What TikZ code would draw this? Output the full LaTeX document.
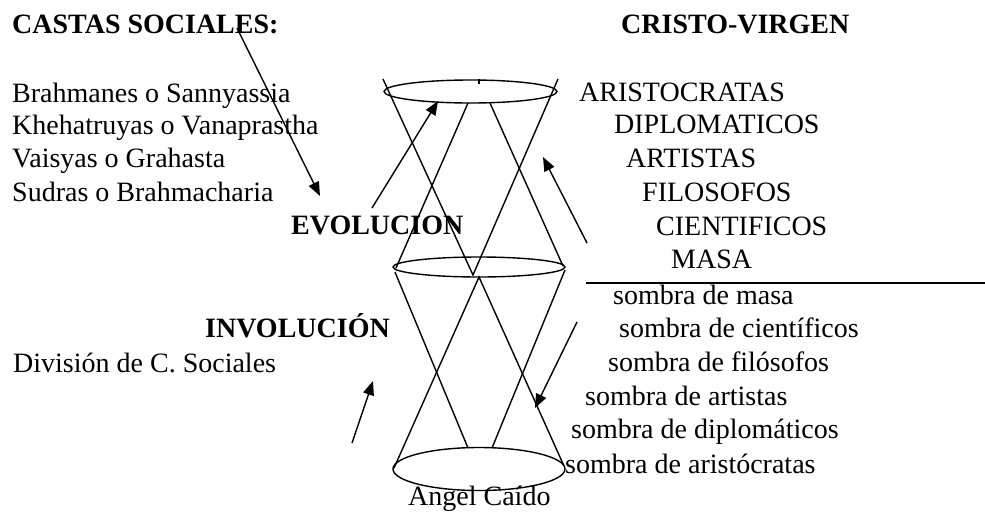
\documentclass[tikz,border=0pt]{standalone}
\usepackage{fontspec}
\setmainfont{Liberation Serif}
\usetikzlibrary{arrows.meta}
\tikzset{
  txt/.style={anchor=base west, inner sep=0pt, font=\fontsize{28}{32}\selectfont},
  btxt/.style={txt, font=\fontsize{28}{32}\selectfont\bfseries},
  cone/.style={line width=1.4pt},
  flecha/.style={line width=1.4pt, -{Triangle[length=14pt,width=11pt]}}
}
\begin{document}
\begin{tikzpicture}[x=1pt,y=-1pt]
  \useasboundingbox (0,0) rectangle (985,512);

  % Drawing titles
  \node[btxt] (castas) at (12,33) {CASTAS SOCIALES:};
  \node[btxt] (cristo) at (621,33) {CRISTO-VIRGEN};

  % Drawing castes (left)
  \node[txt] (brah) at (12,102) {Brahmanes o Sannyassia};
  \node[txt] (kheh) at (12,134) {Khehatruyas o Vanaprastha};
  \node[txt] (vais) at (12,167) {Vaisyas o Grahasta};
  \node[txt] (sudr) at (12,201) {Sudras o Brahmacharia};
  \node[btxt] (evol) at (291,234) {EVOLUCION};
  \node[btxt] (invol) at (205,337) {INVOLUCIÓN};
  \node[txt] (divis) at (13,372) {División de C. Sociales};
  \node[txt] (angel) at (408,505) {Angel Caído};

  % Drawing classes (right)
  \node[txt] (arist) at (579,101) {ARISTOCRATAS};
  \node[txt] (diplo) at (614,133) {DIPLOMATICOS};
  \node[txt] (artis) at (626,167) {ARTISTAS};
  \node[txt] (filos) at (642,201) {FILOSOFOS};
  \node[txt] (cient) at (656,235) {CIENTIFICOS};
  \node[txt] (masa) at (671,268) {MASA};

  % Drawing separating line
  \coordinate (sepA) at (586,283);
  \coordinate (sepB) at (985,283);
  \draw[cone] (sepA) -- (sepB);

  % Drawing shadows (right)
  \node[txt] (smasa) at (613,304) {sombra de masa};
  \node[txt] (scien) at (619,337) {sombra de científicos};
  \node[txt] (sfilo) at (608,371) {sombra de filósofos};
  \node[txt] (sarti) at (585,405) {sombra de artistas};
  \node[txt] (sdipl) at (571,438) {sombra de diplomáticos};
  \node[txt] (saris) at (565,473) {sombra de aristócratas};

  % Drawing ellipses
  \draw[cone] (470.5,91.5) ellipse (86.5 and 11.5);
  \draw[cone] (479,267) ellipse (86 and 10);
  \draw[cone] (479,469) ellipse (86 and 21.5);
  \draw[cone] (479,79) -- (479,84);

  % Drawing upper cone
  \coordinate (tl) at (383,79);
  \coordinate (tr) at (558,79);
  \coordinate (tbl) at (468,103);
  \coordinate (tbr) at (490,103);
  \coordinate (mv) at (473,275);
  \coordinate (ml) at (396,268);
  \coordinate (mr) at (563,266);
  \draw[cone] (tl) -- (mv) -- (tr);
  \draw[cone] (tbl) -- (ml);
  \draw[cone] (tbr) -- (mr);

  % Drawing lower cone
  \coordinate (mapex) at (479,277);
  \coordinate (bl) at (394,468);
  \coordinate (br) at (564,466);
  \coordinate (btl) at (468,448);
  \coordinate (btr) at (492,448);
  \draw[cone] (bl) -- (mapex) -- (br);
  \draw[cone] (395,272) -- (btl);
  \draw[cone] (565,270) -- (btr);

  % Drawing arrows
  \coordinate (a1s) at (237,28);  \coordinate (a1e) at (320,196);
  \coordinate (a2s) at (372,208); \coordinate (a2e) at (438,101);
  \coordinate (a3s) at (587,243); \coordinate (a3e) at (543,157);
  \coordinate (a4s) at (577,322); \coordinate (a4e) at (535,408);
  \coordinate (a5s) at (352,443); \coordinate (a5e) at (373,381);
  \draw[flecha] (a1s) -- (a1e);
  \draw[flecha] (a2s) -- (a2e);
  \draw[flecha] (a3s) -- (a3e);
  \draw[flecha] (a4s) -- (a4e);
  \draw[flecha] (a5s) -- (a5e);
\end{tikzpicture}
\end{document}
